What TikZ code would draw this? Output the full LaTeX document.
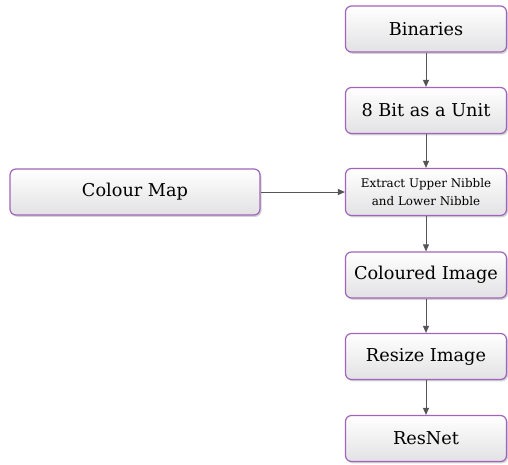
\documentclass[tikz,border=0pt]{standalone}
\usepackage{fontspec}
\setmainfont{DejaVu Serif}
\usetikzlibrary{arrows.meta,shadows}
\definecolor{boxedge}{HTML}{A064BC}
\definecolor{boxtop}{HTML}{FFFFFF}
\definecolor{boxbot}{HTML}{E2E2E4}
\definecolor{linkgray}{HTML}{555555}
\tikzset{
  stepbox/.style={draw=boxedge, line width=1.2pt, rounded corners=6pt,
    top color=boxtop, bottom color=boxbot,
    drop shadow={shadow xshift=1.5pt, shadow yshift=-1.8pt, opacity=0.35},
    minimum width=161pt, minimum height=46pt, inner sep=2pt, align=center,
    font=\fontsize{17.7}{20}\selectfont},
  link/.style={draw=linkgray, line width=0.9pt, -{Triangle[length=7pt,width=6pt]}}
}
\begin{document}
\begin{tikzpicture}[x=1pt,y=-1pt]
\useasboundingbox (0,0) rectangle (508,464);
\node[stepbox] (bin) at (426,29) {Binaries};
\node[stepbox] (bit) at (426,110.5) {8 Bit as a Unit};
\node[stepbox, minimum height=47pt, font=\fontsize{11.9}{17.5}\selectfont] (ext) at (426,192) {Extract Upper Nibble\\and Lower Nibble};
\node[stepbox] (col) at (426,275) {Coloured Image};
\node[stepbox] (res) at (426,356.5) {Resize Image};
\node[stepbox] (net) at (426,438.5) {ResNet};
\node[stepbox, minimum width=250pt] (map) at (135,192) {Colour Map};
\draw[link] (bin) -- (bit);
\draw[link] (bit) -- (ext);
\draw[link] (ext) -- (col);
\draw[link] (col) -- (res);
\draw[link] (res) -- (net);
\draw[link] (map) -- (ext);
\end{tikzpicture}
\end{document}
